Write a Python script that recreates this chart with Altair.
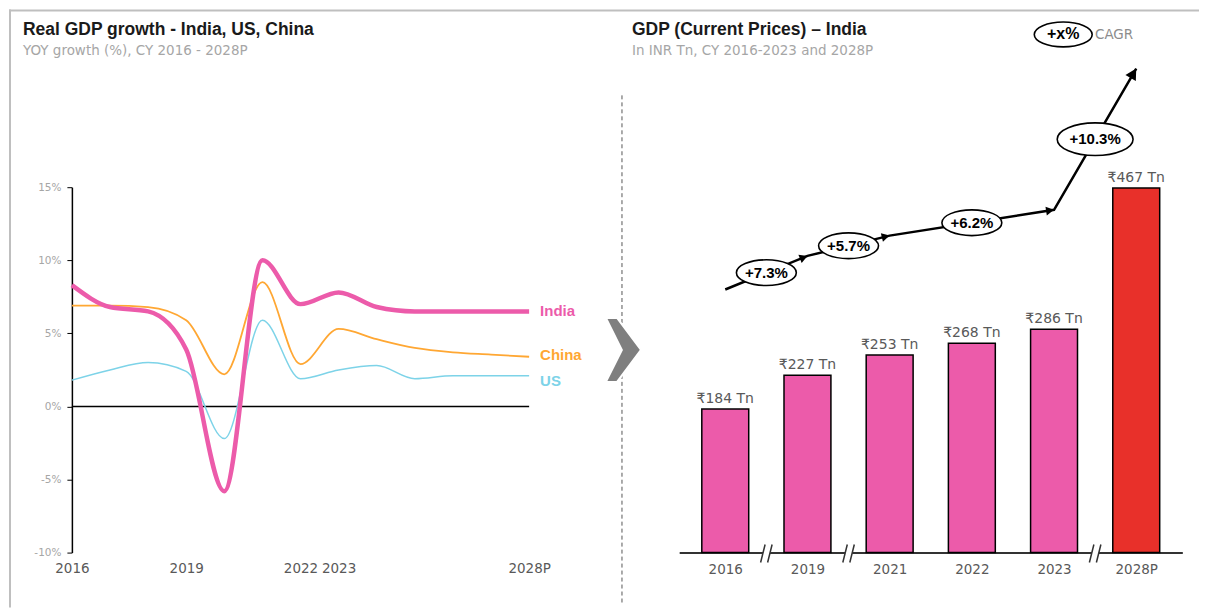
import json
import math
import altair as alt
import pandas as pd

# ---------------- data ----------------
YEARS = list(range(2016, 2029))
INDIA = [8.3, 6.8, 6.5, 3.9, -5.8, 10.0, 7.0, 7.8, 6.8, 6.5, 6.5, 6.5, 6.5]
CHINA = [6.9, 6.9, 6.8, 5.9, 2.2, 8.5, 2.9, 5.3, 4.6, 4.0, 3.7, 3.55, 3.4]
US = [1.8, 2.5, 3.0, 2.4, -2.2, 5.9, 1.9, 2.5, 2.8, 1.9, 2.1, 2.1, 2.1]
X_TICKS = [2016, 2019, 2022, 2023, 2028]
Y_TICKS = [-10, -5, 0, 5, 10, 15]

BAR_YEARS = ["2016", "2019", "2021", "2022", "2023", "2028P"]
BAR_NUM = [2016, 2019, 2021, 2022, 2023, 2028]
BAR_VALUES = [184, 227, 253, 268, 286, 467]
BAR_KIND = ["actual", "actual", "actual", "actual", "actual", "projected"]
CAGR_FROM = ["2016", "2019", "2021", "2023"]
CAGR_TO = ["2019", "2021", "2023", "2028P"]
CAGR_LABELS = ["+7.3%", "+5.7%", "+6.2%", "+10.3%"]
LEGEND_LABEL = "+x%"
LEGEND_TEXT = "CAGR"

TITLE_L = "Real GDP growth - India, US, China"
SUB_L = "YOY growth (%), CY 2016 - 2028P"
TITLE_R = "GDP (Current Prices) – India"
SUB_R = "In INR Tn, CY 2016-2023 and 2028P"

# ---------------- style ----------------
PINK = "#EC5BAA"
ORANGE = "#FFA733"
BLUE = "#7DD3E8"
RED = "#E8302A"
FONT = "DejaVu Sans"
BOLD = "Liberation Sans"
W_L, H_L = 458, 366
W_R, H_R = 504, 366
Y_R_MAX = 468
ARROW_LIFT = 153

ELL = "M -1 0 C -1 -0.238 -0.552 -0.43 0 -0.43 C 0.552 -0.43 1 -0.238 1 0 C 1 0.238 0.552 0.43 0 0.43 C -0.552 0.43 -1 0.238 -1 0 Z"
HEAD = "M -1 -0.55 L 0 0 L -1 0.55 Z"
CHEVRON = "M -0.55 -1 L -0.2 -1 L 0.55 0 L -0.2 1 L -0.55 1 L -0.05 0 Z"
SLASH = "M -0.64 1.1 L -0.14 -0.9 M 0.14 1.1 L 0.64 -0.9"
GAP = "M -0.64 1.1 L -0.14 -0.9 L 0.64 -0.9 L 0.14 1.1 Z"

one = pd.DataFrame({"a": [0]})

# ---------------- left panel ----------------
rows = []
for name, vals in [("India", INDIA), ("China", CHINA), ("US", US)]:
    for y, v in zip(YEARS, vals):
        rows.append({"year": y, "growth": v, "country": name})
df_lines = pd.DataFrame(rows)

x_l = alt.X(
    "year:Q",
    scale=alt.Scale(domain=[2016, 2028], nice=False, zero=False),
    axis=alt.Axis(
        values=X_TICKS, format="d",
        labelExpr="datum.value == 2028 ? datum.label + 'P' : datum.label",
        domain=False, ticks=False, grid=False, title=None,
        labelFlush=False, labelOverlap=False, labelFontSize=13.5,
        labelColor="#595959", labelPadding=9, labelFont=FONT,
    ),
)
y_l = alt.Y(
    "growth:Q",
    scale=alt.Scale(domain=[-10, 15], nice=False, zero=False),
    axis=alt.Axis(
        values=Y_TICKS, labelExpr="datum.value + '%'",
        domainColor="black", domainWidth=1.5, tickColor="black",
        tickSize=5, tickWidth=1, grid=False, title=None,
        labelFontSize=10.5, labelColor="#a6a6a6", labelPadding=6, labelFont=FONT,
    ),
)

base_l = alt.Chart(df_lines)

border_top = alt.Chart(one).mark_rule(color="#bfbfbf", strokeWidth=2).encode(
    x=alt.value(-63), x2=alt.value(1129), y=alt.value(-177))
border_left = alt.Chart(one).mark_rule(color="#bfbfbf", strokeWidth=2).encode(
    x=alt.value(-62), y=alt.value(-178), y2=alt.value(421))
sep = alt.Chart(one).mark_rule(color="#555555", strokeWidth=1, strokeDash=[4, 3]).encode(
    x=alt.value(551), y=alt.value(-92), y2=alt.value(419))
chev = alt.Chart(one).mark_point(
    shape=CHEVRON, filled=True, fill="#7f7f7f", stroke="white", strokeWidth=2,
    opacity=1, size=4096).encode(x=alt.value(552.5), y=alt.value(163))

zero = alt.Chart(one).mark_rule(color="black", strokeWidth=1.5).encode(y=alt.datum(0))

def series_line(name, color, width):
    return base_l.transform_filter(alt.datum.country == name).mark_line(
        interpolate="monotone", color=color, strokeWidth=width).encode(x=x_l, y=y_l)

def series_label(name, color, dy):
    return base_l.transform_filter(
        (alt.datum.country == name) & (alt.datum.year == 2028)
    ).mark_text(align="left", baseline="middle", dx=11, dy=dy, font=BOLD,
                fontWeight="bold", fontSize=15, color=color).encode(
        x=x_l, y=y_l, text="country:N")

title_l = alt.Chart(pd.DataFrame({"t": [TITLE_L]})).mark_text(
    align="left", baseline="alphabetic", font=BOLD, fontWeight="bold",
    fontSize=17.5, color="#1a1a1a").encode(x=alt.value(-49), y=alt.value(-152.7), text="t:N")
sub_l = alt.Chart(pd.DataFrame({"t": [SUB_L]})).mark_text(
    align="left", baseline="alphabetic", font=FONT, fontSize=13.5,
    color="#a6a6a6").encode(x=alt.value(-49), y=alt.value(-132.7), text="t:N")

left = alt.layer(
    border_top, border_left, sep, chev, zero,
    series_line("US", BLUE, 1.5),
    series_line("China", ORANGE, 1.8),
    series_line("India", PINK, 4.5),
    series_label("India", PINK, 0),
    series_label("China", ORANGE, -2),
    series_label("US", BLUE, 5),
    title_l, sub_l,
).properties(width=W_L, height=H_L)

# ---------------- right panel ----------------
df_bars = pd.DataFrame({"idx": list(range(len(BAR_YEARS))), "val": BAR_VALUES,
                        "year": BAR_YEARS, "kind": BAR_KIND})

x_r = alt.X(
    "idx:Q",
    scale=alt.Scale(domain=[-0.5, len(BAR_YEARS) - 0.5], nice=False, zero=False),
    axis=alt.Axis(
        values=list(range(len(BAR_YEARS))),
        labelExpr=json.dumps(BAR_YEARS) + "[datum.value]",
        domainColor="#333333", domainWidth=2, ticks=False, grid=False, title=None,
        labelFlush=False, labelFontSize=13.5, labelColor="#595959",
        labelPadding=10, labelFont=FONT,
    ),
)
y_r = alt.Y("val:Q", scale=alt.Scale(domain=[0, Y_R_MAX], nice=False, zero=True), axis=None)

bars = alt.Chart(df_bars).mark_bar(width=47, stroke="black", strokeWidth=1.5).encode(
    x=x_r, y=y_r,
    color=alt.Color("kind:N", scale=alt.Scale(domain=["actual", "projected"], range=[PINK, RED]),
                    legend=None),
)
bar_text = alt.Chart(df_bars).transform_calculate(
    lbl="'₹' + datum.val + ' Tn'"
).mark_text(dy=-6, baseline="alphabetic", font=FONT, fontSize=14, color="#595959").encode(
    x=x_r, y=y_r, text="lbl:N")

# arrow path through CAGR nodes
pos = {y: i for i, y in enumerate(BAR_YEARS)}
vals = dict(zip(BAR_YEARS, BAR_VALUES))
nodes = [CAGR_FROM[0]] + CAGR_TO
df_nodes = pd.DataFrame({"idx": [pos[n] for n in nodes],
                         "val": [vals[n] + ARROW_LIFT for n in nodes]})
sx = W_R / len(BAR_YEARS)
sy = H_R / Y_R_MAX
heads = []
for a, b in zip(CAGR_FROM, CAGR_TO):
    dxp = (pos[b] - pos[a]) * sx
    dyp = -(vals[b] - vals[a]) * sy
    ang = math.degrees(math.atan2(dyp, dxp)) % 360
    heads.append({"idx": pos[b], "val": vals[b] + ARROW_LIFT, "ang": ang})
df_heads = pd.DataFrame(heads)
df_cagr = pd.DataFrame({
    "idx": [(pos[a] + pos[b]) / 2 for a, b in zip(CAGR_FROM, CAGR_TO)],
    "val": [(vals[a] + vals[b]) / 2 + ARROW_LIFT for a, b in zip(CAGR_FROM, CAGR_TO)],
    "lbl": CAGR_LABELS,
})

arrow = alt.Chart(df_nodes).mark_line(color="black", strokeWidth=2.5).encode(
    x=x_r, y=y_r, order="idx:Q")
heads_mid = alt.Chart(df_heads.iloc[:-1]).mark_point(
    shape=HEAD, filled=True, color="black", opacity=1, size=256).encode(
    x=x_r, y=y_r, angle=alt.Angle("ang:Q", scale=None))
heads_end = alt.Chart(df_heads.iloc[-1:]).mark_point(
    shape=HEAD, filled=True, color="black", opacity=1, size=484).encode(
    x=x_r, y=y_r, angle=alt.Angle("ang:Q", scale=None))
ellipses = alt.Chart(df_cagr).transform_calculate(
    esize="pow(16 * length(datum.lbl) - 20, 2)"
).mark_point(shape=ELL, filled=True, fill="white", stroke="black", strokeWidth=1.6,
             opacity=1).encode(x=x_r, y=y_r, size=alt.Size("esize:Q", scale=None))
ell_text = alt.Chart(df_cagr).mark_text(
    font=BOLD, fontWeight="bold", fontSize=15, color="black", baseline="middle").encode(
    x=x_r, y=y_r, text="lbl:N")

# axis breaks where years are not consecutive
brk = [i + 0.5 for i in range(len(BAR_NUM) - 1) if BAR_NUM[i + 1] - BAR_NUM[i] > 1]
df_brk = pd.DataFrame({"idx": brk, "val": [0] * len(brk)})
brk_gap = alt.Chart(df_brk).mark_point(shape=GAP, filled=True, fill="white", strokeWidth=0,
                                       opacity=1, size=324).encode(x=x_r, y=y_r)
brk_sl = alt.Chart(df_brk).mark_point(shape=SLASH, filled=False, stroke="#333333",
                                      strokeWidth=1.5, opacity=1, size=324).encode(x=x_r, y=y_r)

leg_ell = alt.Chart(pd.DataFrame({"t": [LEGEND_LABEL]})).mark_point(
    shape=ELL, filled=True, fill="white", stroke="black", strokeWidth=1.6, opacity=1,
    size=3364).encode(x=alt.value(384.7), y=alt.value(-153))
leg_txt = alt.Chart(pd.DataFrame({"t": [LEGEND_LABEL]})).mark_text(
    font=BOLD, fontWeight="bold", fontSize=16, color="black", baseline="middle").encode(
    x=alt.value(384.7), y=alt.value(-153), text="t:N")
leg_cagr = alt.Chart(pd.DataFrame({"t": [LEGEND_TEXT]})).mark_text(
    font=FONT, fontSize=13.5, color="#8c8c8c", align="left", baseline="middle").encode(
    x=alt.value(416.5), y=alt.value(-152), text="t:N")

title_r = alt.Chart(pd.DataFrame({"t": [TITLE_R]})).mark_text(
    align="left", baseline="alphabetic", font=BOLD, fontWeight="bold",
    fontSize=17.5, color="#1a1a1a").encode(x=alt.value(-47.3), y=alt.value(-152.7), text="t:N")
sub_r = alt.Chart(pd.DataFrame({"t": [SUB_R]})).mark_text(
    align="left", baseline="alphabetic", font=FONT, fontSize=13.5,
    color="#a6a6a6").encode(x=alt.value(-47.3), y=alt.value(-132.7), text="t:N")

right = alt.layer(
    bars, bar_text, arrow, heads_mid, heads_end, ellipses, ell_text,
    brk_gap, brk_sl, leg_ell, leg_txt, leg_cagr, title_r, sub_r,
).properties(width=W_R, height=H_R)

chart = alt.hconcat(left, right, spacing=150.3, bounds="flush").properties(
    padding=0
).configure(font=FONT).configure_view(stroke=None, strokeWidth=0)

chart.save("out.html", embed_options={"renderer": "svg", "actions": False})
